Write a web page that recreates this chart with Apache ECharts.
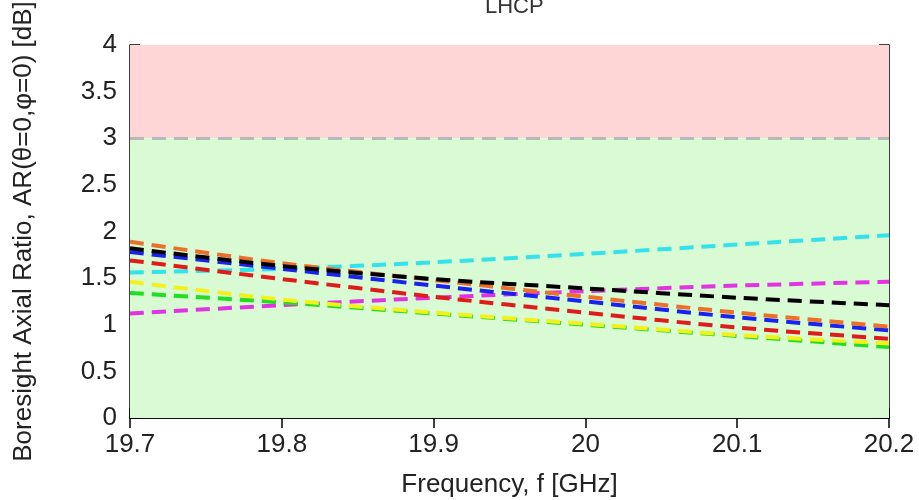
<!DOCTYPE html>
<html>
<head>
<meta charset="utf-8">
<script src="https://cdn.jsdelivr.net/npm/echarts@6/dist/echarts.min.js"></script>
<style>
  html, body { margin: 0; padding: 0; background: #fff; }
  #graph { width: 919px; height: 500px; }
</style>
</head>
<body>
<div id="graph"></div>
<script>
/* 频率 [GHz] */
var freq = [19.7, 19.8, 19.9, 20.0, 20.1, 20.2];

/* 各曲线 AR 值 [dB] */
var arOrange  = [1.89, 1.66, 1.48, 1.30, 1.13, 0.98];
var arBlack   = [1.82, 1.63, 1.49, 1.39, 1.29, 1.21];
var arBlue    = [1.78, 1.60, 1.42, 1.25, 1.08, 0.94];
var arRed     = [1.69, 1.49, 1.30, 1.13, 0.97, 0.85];
var arCyan    = [1.56, 1.60, 1.67, 1.76, 1.86, 1.96];
var arYellow  = [1.46, 1.27, 1.13, 1.01, 0.89, 0.80];
var arGreen   = [1.34, 1.24, 1.12, 1.00, 0.88, 0.76];
var arMagenta = [1.12, 1.21, 1.29, 1.36, 1.42, 1.46];

var yTicks = [0, 0.5, 1, 1.5, 2, 2.5, 3, 3.5, 4];
var limitAR = 3;

function pairs(ys) {
  var out = [];
  for (var i in freq) {
    out[i] = [freq[i], ys[i]];
  }
  return out;
}

function dashLine(name, ys, color) {
  return {
    name: name,
    type: 'line',
    data: pairs(ys),
    smooth: 0.3,
    symbol: 'none',
    silent: true,
    lineStyle: {
      width: 4,
      color: color,
      type: [14, 8]
    },
    z: 5
  };
}

var myChart = echarts.init(document.getElementById('graph'));

var fontFam = 'Liberation Sans, Arial, sans-serif';
var axisFont = { fontSize: 26, color: '#222', fontFamily: fontFam };

var option = {
  animation: false,
  title: {
    text: 'LHCP',
    left: 480,
    top: -9,
    textStyle: { fontSize: 22, fontWeight: 'normal', color: '#333', fontFamily: fontFam }
  },
  grid: { left: 130, right: 30, top: 45, bottom: 82, outerBoundsMode: 'none' },
  xAxis: [
    {
      type: 'value',
      min: 19.7,
      max: 20.2,
      interval: 0.1,
      name: 'Frequency, f [GHz]',
      nameLocation: 'middle',
      nameGap: 54,
      nameTextStyle: axisFont,
      axisLine: { lineStyle: { color: '#000', width: 1.5 } },
      axisTick: { inside: true, length: 10, lineStyle: { color: '#000', width: 1.5 } },
      axisLabel: { fontSize: 26, color: '#222', margin: 14, fontFamily: fontFam },
      splitLine: { show: false }
    },
    {
      type: 'value',
      position: 'top',
      min: 19.7,
      max: 20.2,
      interval: 0.1,
      axisLine: { lineStyle: { color: '#000', width: 1.5 } },
      axisTick: { inside: true, length: 10, lineStyle: { color: '#000', width: 1.5 } },
      axisLabel: { show: false },
      splitLine: { show: false }
    }
  ],
  yAxis: [
    {
      type: 'value',
      min: yTicks[0],
      max: yTicks[yTicks.length - 1],
      interval: 0.5,
      name: 'Boresight Axial Ratio, AR(θ=0,φ=0) [dB]',
      nameLocation: 'middle',
      nameGap: 93,
      nameTextStyle: axisFont,
      axisLine: { show: true, lineStyle: { color: '#000', width: 1.5 } },
      axisTick: { show: true, inside: true, length: 10, lineStyle: { color: '#000', width: 1.5 } },
      axisLabel: { fontSize: 26, color: '#222', margin: 13, fontFamily: fontFam },
      splitLine: { show: false }
    },
    {
      type: 'value',
      position: 'right',
      min: yTicks[0],
      max: yTicks[yTicks.length - 1],
      interval: 0.5,
      axisLine: { show: true, lineStyle: { color: '#000', width: 1.5 } },
      axisTick: { show: true, inside: true, length: 10, lineStyle: { color: '#000', width: 1.5 } },
      axisLabel: { show: false },
      splitLine: { show: false }
    }
  ],
  series: [
    {
      name: 'bg',
      type: 'line',
      data: [],
      silent: true,
      z: 1,
      markArea: {
        silent: true,
        data: [
          [{ yAxis: limitAR, itemStyle: { color: '#ffd6d6' } }, { yAxis: yTicks[yTicks.length - 1] }],
          [{ yAxis: yTicks[0], itemStyle: { color: '#d8fbd4' } }, { yAxis: limitAR }]
        ]
      },
      markLine: {
        silent: true,
        symbol: 'none',
        label: { show: false },
        lineStyle: { color: '#b8b8b8', width: 3, type: [14, 8] },
        data: [{ yAxis: limitAR }]
      }
    },
    dashLine('cyan', arCyan, '#33e2ea'),
    dashLine('magenta', arMagenta, '#e233e2'),
    dashLine('green', arGreen, '#22dd22'),
    dashLine('yellow', arYellow, '#f2f21a'),
    dashLine('red', arRed, '#e01b1b'),
    dashLine('blue', arBlue, '#1a22ee'),
    dashLine('orange', arOrange, '#ec6f2a'),
    dashLine('black', arBlack, '#000000')
  ]
};

myChart.setOption(option);
</script>
</body>
</html>
